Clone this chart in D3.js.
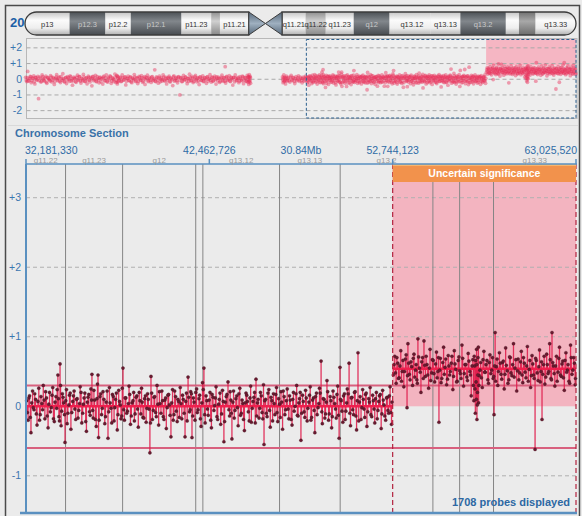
<!DOCTYPE html>
<html><head><meta charset="utf-8">
<script src="https://cdn.jsdelivr.net/npm/d3@7"></script>
<style>
body{margin:0;background:#ebebeb;}
svg{display:block;font-family:"Liberation Sans",Arial,sans-serif;}
</style>
</head><body>
<svg id="c" width="582" height="516"></svg>
<script>
// ---------------- DATA ----------------
const chromosomeName = "20";
const chromLengthBp = 63025520;
const bandNames  = ["p13","p12.3","p12.2","p12.1","p11.23","p11.22","p11.21","p11.1","q11.1","q11.21","q11.22","q11.23","q12","q13.11","q13.12","q13.13","q13.2","q13.31","q13.32","q13.33"];
const bandStarts = [0,5.1,9.2,12.1,17.9,21.3,22.3,25.6,27.5,29.4,32.1,34.4,37.6,41.7,42.1,46.4,49.8,55.0,56.5,58.4];
const bandEnds   = [5.1,9.2,12.1,17.9,21.3,22.3,25.6,27.5,29.4,32.1,34.4,37.6,41.7,42.1,46.4,49.8,55.0,56.5,58.4,63.03];
const bandStains = ["gneg","gpos75","gneg","gpos75","gneg","gpos25","gneg","acen","acen","gneg","gpos25","gneg","gpos75","gneg","gneg","gneg","gpos75","gneg","gpos50","gneg"];

const sectionStartBp = 32181330;
const sectionEndBp = 63025520;
const sectionTickBp = [32181330, 42462726, 52744123, 63025520];
const upperTicks = [2, 1, 0, -1, -2];
const lowerTicks = [3, 2, 1, 0, -1];
const thresholds = [0.3, -0.6];
const segStarts = [32.18133, 52.744123];
const segEnds   = [52.744123, 63.02552];
const segMeans  = [0, 0.54];
const callStart = 52.744123, callEnd = 63.02552;
const callLabel = "Uncertain significance";
const upperHighlightFloor = 0.88;
const probesDisplayed = 1708;

// probes [Mb, log2 ratio]
const pArmProbes = [[0.08,0.12],[0.2,-0.15],[0.31,0.5],[0.45,-0.08],[0.6,0.18],[0.72,-0.22],[0.86,0.05],[1.0,0.21],[1.13,-0.3],[1.27,0.1],[1.4,-0.05],[1.55,-1.24],[1.68,0.14],[1.82,-0.18],[1.96,0.27],[2.1,0.02],[2.23,-0.12],[2.38,0.19],[2.5,-0.26],[2.65,0.08],[2.8,-0.04],[2.93,0.23],[3.07,-0.17],[3.2,0.11],[3.35,-0.33],[3.5,0.06],[3.62,0.29],[3.77,-0.09],[3.9,0.15],[4.05,-0.21],[4.18,0.03],[4.33,0.35],[4.47,-0.14],[4.6,0.09],[4.75,-0.27],[4.88,0.17],[5.02,-0.02],[5.16,0.22],[5.3,-0.11],[5.43,-0.38],[5.58,0.13],[5.7,0.04],[5.85,-0.19],[6.0,0.26],[6.12,-0.07],[6.27,0.16],[6.4,-0.24],[6.55,0.01],[6.68,0.31],[6.82,-0.13],[6.96,0.07],[7.1,-0.29],[7.24,0.2],[7.37,-0.06],[7.5,0.12],[7.65,-0.42],[7.78,0.18],[7.92,-0.01],[8.06,0.25],[8.2,-0.16],[8.33,0.06],[8.48,-0.23],[8.6,0.14],[8.75,0.02],[8.9,-0.31],[9.03,0.19],[9.17,-0.08],[9.3,0.28],[9.45,-0.18],[9.58,0.04],[9.72,0.21],[9.86,-0.26],[10.0,0.1],[10.13,-0.03],[10.28,0.33],[10.4,-0.2],[10.5,0.24],[10.56,-0.3],[10.62,0.16],[10.7,-0.12],[10.84,0.08],[10.98,-0.15],[11.12,0.27],[11.25,-0.05],[11.4,0.13],[11.53,-0.36],[11.67,0.05],[11.8,0.2],[11.95,-0.1],[12.08,0.15],[12.22,-0.22],[12.36,0.03],[12.5,0.3],[12.63,-0.14],[12.77,0.1],[12.9,-0.27],[13.05,0.18],[13.18,-0.04],[13.32,0.23],[13.46,-0.19],[13.6,0.07],[13.73,-0.33],[13.87,0.12],[14.0,0.26],[14.15,-0.09],[14.28,0.04],[14.42,-0.2],[14.56,0.17],[14.7,-0.02],[14.84,0.6],[14.97,-0.15],[15.1,0.09],[15.25,-0.25],[15.38,0.2],[15.52,0.01],[15.66,-0.12],[15.8,0.28],[15.93,-0.07],[16.07,0.14],[16.2,-0.3],[16.35,0.06],[16.48,0.19],[16.62,-0.17],[16.76,0.03],[16.9,-0.4],[17.03,0.22],[17.17,-0.06],[17.3,0.11],[17.45,-0.23],[17.58,0.16],[17.72,-1.0],[17.86,0.08],[18.0,-0.14],[18.13,0.25],[18.27,-0.03],[18.4,0.13],[18.55,-0.28],[18.68,0.05],[18.82,0.32],[18.96,-0.1],[19.1,0.18],[19.23,-0.21],[19.37,0.02],[19.5,0.24],[19.65,-0.16],[19.78,0.09],[19.92,-0.34],[20.06,0.15],[20.2,-0.05],[20.33,0.21],[20.47,-0.12],[20.6,0.07],[20.75,-0.26],[20.88,0.17],[21.02,0.0],[21.16,0.29],[21.3,-0.18],[21.43,0.11],[21.57,-0.08],[21.7,0.2],[21.85,-0.31],[21.98,0.06],[22.12,0.14],[22.26,-0.2],[22.4,0.04],[22.53,0.26],[22.67,-0.13],[22.8,0.1],[22.9,0.8],[22.95,-0.24],[23.08,0.18],[23.22,-0.02],[23.36,0.23],[23.5,-0.15],[23.63,0.08],[23.77,-0.37],[23.9,0.12],[24.05,0.27],[24.18,-0.09],[24.32,0.05],[24.46,-0.22],[24.6,0.16],[24.73,-0.04],[24.87,0.2],[25.0,-0.28],[25.14,0.1],[25.28,-0.11],[25.42,0.25],[25.5,-0.19],[25.56,0.13],[25.6,-0.33],[25.65,0.3],[25.7,-0.06],[25.75,0.18],[25.8,-0.25]];

const pArmProbesB = [[0.14,-0.05],[0.27,0.1],[0.38,-0.12],[0.52,0.04],[0.66,0.15],[0.79,-0.1],[0.93,0.07],[1.06,-0.16],[1.2,0.12],[1.33,-0.02],[1.47,0.18],[1.61,-0.09],[1.75,0.05],[1.89,-0.13],[2.03,0.16],[2.16,-0.06],[2.3,0.09],[2.44,-0.18],[2.58,0.11],[2.72,0.0],[2.86,-0.11],[3.0,0.14],[3.14,-0.07],[3.28,0.06],[3.42,-0.15],[3.56,0.13],[3.7,-0.03],[3.84,0.08],[3.98,-0.12],[4.11,0.17],[4.25,-0.06],[4.4,0.04],[4.54,-0.17],[4.68,0.12],[4.82,-0.04],[4.95,0.09],[5.09,-0.13],[5.23,0.15],[5.37,0.02],[5.5,-0.1],[5.64,0.07],[5.78,-0.15],[5.92,0.12],[6.06,-0.02],[6.2,0.16],[6.34,-0.11],[6.48,0.05],[6.62,-0.08],[6.75,0.14],[6.89,-0.14],[7.03,0.09],[7.17,-0.04],[7.3,0.12],[7.44,-0.17],[7.58,0.03],[7.72,0.15],[7.85,-0.09],[7.99,0.06],[8.13,-0.12],[8.27,0.17],[8.4,-0.03],[8.54,0.1],[8.68,-0.16],[8.82,0.05],[8.96,0.13],[9.1,-0.1],[9.24,0.08],[9.38,-0.14],[9.52,0.11],[9.65,-0.05],[9.79,0.16],[9.93,-0.11],[10.06,0.04],[10.2,-0.15],[10.34,0.12],[10.45,-0.08],[10.53,0.2],[10.59,-0.18],[10.66,0.06],[10.77,-0.04],[10.91,0.13],[11.05,-0.12],[11.18,0.09],[11.32,-0.02],[11.46,0.15],[11.6,-0.13],[11.74,0.06],[11.88,-0.07],[12.02,0.11],[12.15,-0.16],[12.29,0.08],[12.43,-0.03],[12.57,0.14],[12.7,-0.1],[12.84,0.05],[12.98,-0.14],[13.12,0.12],[13.25,-0.05],[13.39,0.09],[13.53,-0.12],[13.67,0.16],[13.8,-0.02],[13.94,0.07],[14.08,-0.15],[14.22,0.11],[14.35,-0.06],[14.49,0.13],[14.63,-0.09],[14.77,0.04],[14.91,-0.13],[15.04,0.15],[15.18,-0.04],[15.32,0.08],[15.45,-0.16],[15.59,0.1],[15.73,-0.03],[15.87,0.14],[16.0,-0.11],[16.14,0.05],[16.28,-0.07],[16.42,0.12],[16.55,-0.14],[16.69,0.08],[16.83,-0.02],[16.97,0.15],[17.1,-0.12],[17.24,0.06],[17.38,-0.09],[17.52,0.13],[17.65,-0.05],[17.79,0.1],[17.93,-0.15],[18.07,0.07],[18.2,-0.02],[18.34,0.14],[18.48,-0.1],[18.62,0.04],[18.75,-0.13],[18.89,0.12],[19.03,-0.06],[19.16,0.09],[19.3,-0.14],[19.44,0.15],[19.58,-0.03],[19.72,0.07],[19.85,-0.11],[19.99,0.13],[20.13,-0.08],[20.27,0.05],[20.4,-0.15],[20.54,0.1],[20.68,-0.02],[20.82,0.14],[20.95,-0.12],[21.09,0.06],[21.23,-0.06],[21.37,0.13],[21.5,-0.13],[21.64,0.08],[21.78,-0.03],[21.92,0.15],[22.05,-0.1],[22.19,0.05],[22.33,-0.14],[22.47,0.11],[22.6,-0.05],[22.74,0.09],[22.88,-0.12],[23.02,0.14],[23.15,-0.07],[23.29,0.06],[23.43,-0.11],[23.57,0.13],[23.7,-0.02],[23.84,0.1],[23.98,-0.16],[24.12,0.07],[24.25,-0.04],[24.39,0.12],[24.53,-0.12],[24.67,0.05],[24.8,-0.09],[24.94,0.15],[25.07,-0.06],[25.21,0.09],[25.35,-0.14],[25.46,0.11],[25.53,-0.03],[25.58,0.17],[25.62,-0.12],[25.67,0.08],[25.72,-0.16],[25.78,0.1]];

const qProximalProbes = [[29.45,0.15],[29.52,-0.22],[29.6,0.28],[29.66,-0.1],[29.73,0.05],[29.8,-0.3],[29.9,0.2],[30.02,-0.05],[30.15,0.12],[30.3,-0.18],[30.44,0.24],[30.58,-0.08],[30.72,0.09],[30.86,-0.27],[31.0,0.17],[31.14,-0.02],[31.28,0.21],[31.42,-0.14],[31.56,0.06],[31.7,-0.23],[31.84,0.13],[31.98,-0.04],[32.1,0.19],[29.48,-0.04],[29.56,0.08],[29.63,-0.15],[29.7,0.12],[29.77,-0.06],[29.85,0.1],[29.96,-0.12],[30.08,0.06],[30.22,-0.09],[30.37,0.14],[30.51,-0.03],[30.65,0.11],[30.79,-0.13],[30.93,0.04],[31.07,-0.1],[31.21,0.08],[31.35,-0.05],[31.49,0.13],[31.63,-0.08],[31.77,0.05],[31.91,-0.12],[32.04,0.07]];

const sectionNormalProbes = [[32.22,0.08],[32.3,-0.2],[32.38,0.15],[32.46,-0.38],[32.55,0.22],[32.63,-0.05],[32.72,0.1],[32.8,-0.27],[32.9,0.26],[32.98,-0.12],[33.07,0.04],[33.15,0.3],[33.24,-0.18],[33.33,0.12],[33.42,-0.31],[33.5,0.2],[33.6,-0.02],[33.68,0.27],[33.77,-0.22],[33.86,0.14],[33.97,0.45],[34.03,-0.15],[34.09,0.61],[34.15,-0.28],[34.22,0.18],[34.3,0.05],[34.37,-0.52],[34.45,0.24],[34.53,-0.1],[34.62,0.16],[34.7,-0.33],[34.8,0.07],[34.88,0.22],[34.97,-0.19],[35.05,0.11],[35.14,-0.06],[35.22,0.28],[35.31,-0.24],[35.4,0.03],[35.48,0.19],[35.57,-0.36],[35.66,0.13],[35.74,-0.08],[35.82,0.25],[35.88,0.46],[35.95,-0.17],[36.03,0.09],[36.12,-0.29],[36.19,0.32],[36.22,0.45],[36.25,-0.45],[36.33,0.14],[36.42,-0.12],[36.5,0.21],[36.6,-0.25],[36.68,0.06],[36.78,-0.46],[36.86,0.27],[36.95,-0.03],[37.03,0.17],[37.12,-0.21],[37.2,0.1],[37.3,-0.34],[37.38,0.23],[37.47,0.02],[37.55,-0.14],[37.62,0.55],[37.7,-0.2],[37.78,0.12],[37.87,-0.07],[37.96,0.29],[38.04,-0.26],[38.13,0.05],[38.22,0.2],[38.3,-0.11],[38.4,0.15],[38.48,-0.3],[38.57,0.08],[38.66,0.26],[38.74,-0.16],[38.83,0.11],[38.92,-0.23],[39.0,0.18],[39.08,-0.04],[39.13,-0.67],[39.19,0.43],[39.27,-0.19],[39.36,0.13],[39.45,-0.09],[39.53,0.3],[39.62,-0.27],[39.7,0.04],[39.8,0.22],[39.88,-0.15],[39.97,0.09],[40.05,-0.32],[40.14,0.16],[40.22,0.02],[40.31,-0.44],[40.4,0.24],[40.48,-0.12],[40.57,0.14],[40.66,-0.22],[40.74,0.07],[40.83,0.27],[40.92,-0.18],[41.0,0.1],[41.1,-0.44],[41.18,0.19],[41.27,0.42],[41.35,-0.08],[41.42,0.21],[41.49,-0.45],[41.57,0.12],[41.66,-0.2],[41.75,0.25],[41.83,-0.05],[41.92,0.16],[42.0,-0.29],[42.08,0.34],[42.16,0.55],[42.23,-0.24],[42.32,0.08],[42.4,-0.13],[42.5,0.2],[42.58,-0.31],[42.67,0.13],[42.76,0.01],[42.84,0.28],[42.93,-0.19],[43.02,0.1],[43.1,-0.26],[43.2,0.23],[43.28,-0.51],[43.36,0.06],[43.45,0.17],[43.51,0.35],[43.6,-0.14],[43.67,0.09],[43.73,-0.47],[43.82,0.22],[43.9,-0.06],[44.0,0.15],[44.08,-0.28],[44.17,0.26],[44.26,-0.1],[44.34,0.04],[44.43,-0.35],[44.52,0.19],[44.6,0.07],[44.7,-0.21],[44.78,0.29],[44.87,-0.03],[44.96,0.13],[45.04,-0.24],[45.08,0.39],[45.16,0.05],[45.25,-0.17],[45.33,0.2],[45.42,-0.09],[45.5,0.31],[45.53,-0.55],[45.62,0.1],[45.7,-0.15],[45.8,0.24],[45.88,-0.3],[45.97,0.08],[46.06,0.18],[46.14,-0.12],[46.23,0.27],[46.3,-0.22],[46.4,0.03],[46.48,0.21],[46.57,-0.33],[46.66,0.14],[46.74,-0.05],[46.83,0.25],[46.92,-0.18],[47.0,0.09],[47.1,-0.27],[47.18,0.2],[47.27,0.0],[47.36,0.3],[47.44,-0.14],[47.52,0.11],[47.6,-0.49],[47.69,0.16],[47.78,-0.08],[47.86,0.23],[47.95,-0.21],[48.04,0.06],[48.12,0.28],[48.2,-0.16],[48.3,0.12],[48.38,-0.38],[48.47,0.19],[48.56,-0.02],[48.64,0.26],[48.73,0.65],[48.8,-0.25],[48.9,0.1],[48.98,-0.11],[49.06,0.37],[49.15,-0.2],[49.24,0.14],[49.32,-0.31],[49.4,0.22],[49.5,0.04],[49.58,-0.17],[49.66,0.29],[49.74,-0.46],[49.79,0.56],[49.86,0.08],[49.95,-0.23],[50.04,0.18],[50.12,-0.07],[50.2,0.25],[50.3,0.62],[50.38,-0.28],[50.46,0.13],[50.55,-0.12],[50.64,0.21],[50.72,-0.34],[50.8,0.77],[50.88,0.06],[50.97,-0.19],[51.06,0.24],[51.14,-0.04],[51.22,0.17],[51.3,-0.29],[51.4,0.11],[51.48,0.27],[51.57,-0.15],[51.66,0.08],[51.74,-0.24],[51.83,0.2],[51.92,-0.06],[52.0,0.15],[52.1,-0.32],[52.18,0.23],[52.26,0.02],[52.35,-0.2],[52.44,0.13],[52.52,-0.1],[52.6,0.28],[52.68,-0.26]];

const sectionNormalProbesB = [[32.26,-0.09],[32.34,0.12],[32.42,-0.16],[32.5,0.05],[32.59,-0.02],[32.67,0.18],[32.76,-0.11],[32.85,0.07],[32.94,-0.2],[33.02,0.14],[33.11,-0.05],[33.2,0.09],[33.28,0.21],[33.37,-0.14],[33.46,0.03],[33.55,-0.08],[33.64,0.16],[33.72,-0.18],[33.81,0.06],[33.9,-0.03],[33.93,0.24],[34.0,0.11],[34.06,-0.21],[34.12,0.3],[34.18,-0.07],[34.26,0.13],[34.34,-0.12],[34.41,0.08],[34.49,-0.25],[34.58,0.02],[34.66,0.19],[34.75,-0.09],[34.84,0.15],[34.92,-0.04],[35.01,0.1],[35.1,-0.17],[35.18,0.04],[35.27,0.2],[35.36,-0.1],[35.44,0.12],[35.53,-0.22],[35.62,0.06],[35.7,0.17],[35.78,-0.13],[35.86,0.09],[35.92,-0.06],[35.99,0.23],[36.07,-0.19],[36.16,0.11],[36.28,-0.2],[36.37,0.18],[36.46,-0.03],[36.55,0.1],[36.64,-0.15],[36.73,0.22],[36.82,-0.08],[36.9,0.05],[36.99,-0.24],[37.08,0.14],[37.16,-0.02],[37.25,0.19],[37.34,-0.12],[37.43,0.07],[37.51,-0.18],[37.58,0.26],[37.66,-0.05],[37.74,0.12],[37.83,-0.1],[37.92,0.04],[38.0,0.17],[38.09,-0.14],[38.18,0.08],[38.26,-0.21],[38.35,0.13],[38.44,-0.04],[38.53,0.2],[38.62,-0.11],[38.7,0.06],[38.79,-0.17],[38.88,0.15],[38.96,-0.03],[39.04,0.1],[39.16,-0.24],[39.23,0.19],[39.32,-0.06],[39.4,0.14],[39.49,-0.15],[39.58,0.03],[39.66,0.21],[39.75,-0.1],[39.84,0.08],[39.92,-0.19],[40.01,0.12],[40.1,-0.02],[40.18,0.17],[40.26,-0.13],[40.35,0.05],[40.44,-0.2],[40.52,0.22],[40.61,-0.07],[40.7,0.1],[40.78,-0.16],[40.87,0.04],[40.96,0.16],[41.05,-0.1],[41.14,0.07],[41.22,-0.21],[41.31,0.13],[41.39,-0.05],[41.46,0.18],[41.53,-0.14],[41.61,0.06],[41.7,0.2],[41.79,-0.09],[41.88,0.11],[41.96,-0.18],[42.04,0.05],[42.12,0.24],[42.2,-0.12],[42.28,0.15],[42.36,-0.04],[42.45,0.09],[42.54,-0.2],[42.62,0.17],[42.72,-0.06],[42.8,0.12],[42.89,-0.15],[42.98,0.03],[43.06,0.19],[43.15,-0.11],[43.24,0.07],[43.32,-0.22],[43.41,0.14],[43.56,-0.05],[43.63,0.21],[43.7,-0.1],[43.78,0.06],[43.86,-0.17],[43.95,0.11],[44.04,-0.02],[44.12,0.18],[44.21,-0.13],[44.3,0.09],[44.38,-0.19],[44.47,0.05],[44.56,0.16],[44.65,-0.08],[44.74,0.12],[44.82,-0.23],[44.91,0.07],[45.0,0.2],[45.12,-0.14],[45.2,0.1],[45.29,-0.03],[45.38,0.15],[45.46,-0.18],[45.57,0.08],[45.66,-0.1],[45.75,0.19],[45.84,-0.06],[45.92,0.13],[46.01,-0.21],[46.1,0.04],[46.19,0.17],[46.26,-0.09],[46.35,0.11],[46.44,-0.16],[46.52,0.06],[46.61,0.22],[46.7,-0.12],[46.78,0.08],[46.88,-0.04],[46.96,0.15],[47.05,-0.19],[47.14,0.1],[47.22,-0.07],[47.32,0.18],[47.4,-0.13],[47.48,0.05],[47.56,0.2],[47.64,-0.1],[47.73,0.07],[47.82,-0.16],[47.9,0.12],[47.99,-0.03],[48.08,0.16],[48.16,-0.2],[48.25,0.09],[48.34,-0.06],[48.42,0.14],[48.51,-0.12],[48.6,0.04],[48.68,0.19],[48.77,-0.08],[48.85,0.11],[48.94,-0.17],[49.02,0.06],[49.1,0.21],[49.19,-0.11],[49.28,0.08],[49.36,-0.15],[49.45,0.13],[49.54,-0.04],[49.62,0.17],[49.7,-0.13],[49.82,0.1],[49.9,-0.07],[49.99,0.15],[50.08,-0.19],[50.16,0.05],[50.25,0.18],[50.34,-0.1],[50.42,0.12],[50.5,-0.05],[50.6,0.2],[50.68,-0.14],[50.76,0.08],[50.84,-0.21],[50.92,0.14],[51.02,-0.02],[51.1,0.1],[51.18,-0.16],[51.26,0.19],[51.35,-0.08],[51.44,0.06],[51.52,-0.12],[51.62,0.16],[51.7,-0.04],[51.78,0.11],[51.88,-0.18],[51.96,0.07],[52.05,0.17],[52.14,-0.11],[52.22,0.09],[52.3,-0.14],[52.4,0.12],[52.48,-0.06],[52.56,0.15],[52.64,-0.09],[52.71,0.06]];

const sectionGainProbes = [[52.78,0.45],[52.86,0.72],[52.94,0.33],[53.03,0.62],[53.11,0.41],[53.2,0.8],[53.28,0.5],[53.37,0.28],[53.46,0.68],[53.55,-0.02],[53.6,0.9],[53.68,0.46],[53.77,0.64],[53.86,0.3],[53.94,0.75],[54.03,0.52],[54.1,0.38],[54.16,0.97],[54.25,0.55],[54.33,0.2],[54.42,0.7],[54.5,0.94],[54.58,0.43],[54.67,0.6],[54.76,0.26],[54.84,0.82],[54.93,0.48],[55.02,0.66],[55.1,0.35],[55.2,0.78],[55.28,0.5],[55.34,-0.23],[55.42,0.69],[55.5,0.4],[55.6,0.85],[55.68,0.56],[55.77,0.31],[55.86,0.73],[55.94,0.45],[56.03,0.62],[56.12,0.24],[56.2,0.8],[56.28,0.53],[56.37,0.36],[56.46,0.71],[56.54,0.47],[56.63,0.88],[56.72,0.29],[56.8,0.6],[56.9,0.42],[56.98,0.76],[57.07,0.5],[57.15,0.15],[57.24,0.67],[57.3,0.08],[57.34,0.58],[57.38,-0.1],[57.42,0.35],[57.45,0.82],[57.47,-0.19],[57.5,0.2],[57.53,0.7],[57.56,0.05],[57.6,0.44],[57.68,0.63],[57.77,0.27],[57.86,0.79],[57.94,0.49],[58.03,0.66],[58.12,0.33],[58.2,0.74],[58.3,0.52],[58.38,0.4],[58.43,-0.12],[58.49,1.06],[58.56,0.57],[58.64,0.3],[58.73,0.77],[58.82,0.46],[58.9,0.63],[59.0,0.25],[59.08,0.84],[59.17,0.51],[59.26,0.38],[59.34,0.7],[59.43,0.44],[59.52,0.9],[59.6,0.55],[59.7,0.22],[59.78,0.68],[59.87,0.48],[59.96,0.79],[60.04,0.34],[60.13,0.62],[60.22,0.41],[60.3,0.86],[60.4,0.53],[60.48,0.27],[60.56,0.73],[60.64,0.45],[60.73,-0.62],[60.8,0.66],[60.9,0.37],[60.98,0.81],[61.06,0.5],[61.12,-0.19],[61.2,0.6],[61.28,0.32],[61.38,0.75],[61.46,0.47],[61.55,0.9],[61.62,0.4],[61.68,1.06],[61.76,0.58],[61.84,0.29],[61.93,0.72],[62.02,0.49],[62.1,0.85],[62.2,0.43],[62.28,0.65],[62.37,0.23],[62.46,0.77],[62.54,0.52],[62.63,0.36],[62.72,0.88],[62.8,0.46],[62.9,0.7],[62.98,0.31]];

const sectionGainProbesB = [[52.82,0.6],[52.9,0.48],[52.98,0.7],[53.07,0.4],[53.15,0.58],[53.24,0.36],[53.32,0.66],[53.41,0.5],[53.5,0.74],[53.58,0.44],[53.64,0.62],[53.72,0.38],[53.81,0.57],[53.9,0.69],[53.98,0.42],[54.06,0.6],[54.13,0.33],[54.2,0.71],[54.29,0.49],[54.37,0.64],[54.46,0.4],[54.54,0.59],[54.62,0.72],[54.71,0.45],[54.8,0.55],[54.88,0.37],[54.97,0.67],[55.06,0.47],[55.15,0.61],[55.24,0.41],[55.31,0.7],[55.38,0.52],[55.46,0.34],[55.55,0.63],[55.64,0.46],[55.72,0.68],[55.82,0.39],[55.9,0.58],[55.98,0.5],[56.07,0.72],[56.16,0.43],[56.24,0.61],[56.33,0.35],[56.42,0.66],[56.5,0.51],[56.58,0.4],[56.67,0.69],[56.76,0.47],[56.85,0.6],[56.94,0.37],[57.02,0.65],[57.11,0.45],[57.2,0.58],[57.27,0.3],[57.32,0.72],[57.36,0.25],[57.4,0.66],[57.44,0.1],[57.46,0.6],[57.49,0.02],[57.52,0.45],[57.55,0.85],[57.58,0.3],[57.64,0.52],[57.72,0.41],[57.81,0.67],[57.9,0.49],[57.98,0.6],[58.08,0.38],[58.16,0.63],[58.25,0.47],[58.34,0.7],[58.41,0.43],[58.46,0.58],[58.52,0.36],[58.6,0.68],[58.68,0.5],[58.78,0.62],[58.86,0.39],[58.95,0.65],[59.04,0.46],[59.12,0.59],[59.21,0.33],[59.3,0.71],[59.38,0.48],[59.47,0.6],[59.56,0.42],[59.65,0.67],[59.74,0.51],[59.82,0.38],[59.91,0.64],[60.0,0.45],[60.08,0.7],[60.17,0.49],[60.26,0.58],[60.35,0.36],[60.44,0.66],[60.52,0.44],[60.6,0.61],[60.68,0.4],[60.76,0.69],[60.85,0.48],[60.94,0.57],[61.02,0.35],[61.09,0.64],[61.16,0.46],[61.24,0.72],[61.33,0.42],[61.42,0.6],[61.5,0.5],[61.58,0.67],[61.65,0.38],[61.72,0.63],[61.8,0.47],[61.88,0.58],[61.97,0.36],[62.06,0.69],[62.15,0.45],[62.24,0.61],[62.32,0.41],[62.41,0.66],[62.5,0.49],[62.58,0.6],[62.67,0.33],[62.76,0.7],[62.85,0.52],[62.94,0.62],[63.0,0.4]];

// ---------------- DRAW ----------------
const svg = d3.select("#c");
const defs = svg.append("defs");
const blue = "#2f6ba6";

function grad(id, stops){
  const g = defs.append("linearGradient").attr("id", id).attr("x1",0).attr("y1",0).attr("x2",0).attr("y2",1);
  stops.forEach(([o,c]) => g.append("stop").attr("offset", o).attr("stop-color", c));
}
grad("gneg",  [[0,"#c4c4c4"],[0.35,"#fbfbfb"],[0.7,"#eeeeee"],[1,"#b0b0b0"]]);
grad("gpos25",[[0,"#8f8f8f"],[0.4,"#d0d0d0"],[1,"#878787"]]);
grad("gpos50",[[0,"#727272"],[0.4,"#a8a8a8"],[1,"#6c6c6c"]]);
grad("gpos75",[[0,"#4c5156"],[0.4,"#82878c"],[1,"#474b50"]]);
grad("acen",  [[0,"#56687a"],[0.5,"#9fb0c0"],[1,"#56687a"]]);

// frame
svg.append("rect").attr("x",5.5).attr("y",5.5).attr("width",574).attr("height",520)
  .attr("fill","#ebebeb").attr("stroke","#4a4a4a").attr("stroke-width",1.5);

// ---- ideogram ----
const bands = bandNames.map((n,i)=>({name:n,start:bandStarts[i],end:bandEnds[i],stain:bandStains[i]}));
const chromMb = chromLengthBp/1e6;
const ix = d3.scaleLinear().domain([0, chromMb]).range([25, 576]);
const iTop = 12, iBot = 35, iMid = (iTop+iBot)/2, rr = 11.5;
const cen = bands.filter(b=>b.stain==="acen");
const cenStart = d3.min(cen,b=>b.start), cenEnd = d3.max(cen,b=>b.end), cenMid = cen[0].end;

svg.append("text").attr("x",10).attr("y",27).attr("fill","#1d5fa6")
  .attr("font-weight","bold").attr("font-size",13).text(chromosomeName);

const pPath = `M${ix(0)+rr},${iTop} L${ix(cenStart)},${iTop} L${ix(cenStart)},${iBot} L${ix(0)+rr},${iBot} A${rr},${rr} 0 0 1 ${ix(0)+rr},${iTop} Z`;
const qPath = `M${ix(cenEnd)},${iTop} L${ix(chromMb)-rr},${iTop} A${rr},${rr} 0 0 1 ${ix(chromMb)-rr},${iBot} L${ix(cenEnd)},${iBot} Z`;
defs.append("clipPath").attr("id","clipP").append("path").attr("d",pPath);
defs.append("clipPath").attr("id","clipQ").append("path").attr("d",qPath);
["P","Q"].forEach(arm=>{
  const bs = bands.filter(b=>b.stain!=="acen" && (arm==="P" ? b.end<=cenStart : b.start>=cenEnd));
  const g = svg.append("g").attr("clip-path",`url(#clip${arm})`);
  g.selectAll("rect").data(bs).join("rect")
    .attr("x",d=>ix(d.start)).attr("y",iTop).attr("width",d=>ix(d.end)-ix(d.start)).attr("height",iBot-iTop)
    .attr("fill",d=>`url(#${d.stain})`);
});
svg.append("path").attr("d",pPath).attr("fill","none").attr("stroke","#3c3c3c").attr("stroke-width",1.3);
svg.append("path").attr("d",qPath).attr("fill","none").attr("stroke","#3c3c3c").attr("stroke-width",1.3);
svg.append("path").attr("d",`M${ix(cenStart)},${iTop} L${ix(cenMid)},${iMid} L${ix(cenStart)},${iBot} Z`)
  .attr("fill","url(#acen)").attr("stroke","#3c3c3c").attr("stroke-width",1);
svg.append("path").attr("d",`M${ix(cenEnd)},${iTop} L${ix(cenMid)},${iMid} L${ix(cenEnd)},${iBot} Z`)
  .attr("fill","url(#acen)").attr("stroke","#3c3c3c").attr("stroke-width",1);
svg.append("g").selectAll("text").data(bands.filter(b=>b.stain!=="acen" && ix(b.end)-ix(b.start)>=19)).join("text")
  .attr("x",d=>(ix(d.start)+ix(d.end))/2).attr("y",iMid+3).attr("text-anchor","middle")
  .attr("font-size",7.5).attr("fill",d=>d.stain==="gpos75"?"#c9c9c9":"#333").text(d=>d.name);

// ---- upper whole-chromosome plot ----
const uy = d3.scaleLinear().domain([-2.5,2.5]).range([118.5,40]);
const uLeft = 26.5, uRight = 577;
svg.append("rect").attr("x",uLeft).attr("y",38.5).attr("width",uRight-uLeft).attr("height",80)
  .attr("fill","#eeeeee").attr("stroke","#b8b8b8");
svg.append("rect").attr("x",ix(callStart)).attr("y",39).attr("width",ix(callEnd)-ix(callStart))
  .attr("height",uy(upperHighlightFloor)-39).attr("fill","#f5b6c3");
svg.append("g").selectAll("line").data(upperTicks).join("line")
  .attr("x1",uLeft).attr("x2",uRight).attr("y1",d=>uy(d)).attr("y2",d=>uy(d))
  .attr("stroke","#a9a9a9").attr("stroke-dasharray","4,3");
svg.append("g").selectAll("text").data(upperTicks).join("text")
  .attr("x",22).attr("y",d=>uy(d)+3.5).attr("text-anchor","end").attr("font-size",10.5)
  .attr("fill","#3a76b0").text(d=>d>0?"+"+d:d);
const allProbes = pArmProbes.concat(pArmProbesB, qProximalProbes, sectionNormalProbes, sectionNormalProbesB, sectionGainProbes, sectionGainProbesB);
svg.append("g").selectAll("circle").data(allProbes).join("circle")
  .attr("cx",d=>ix(d[0])).attr("cy",d=>uy(d[1])).attr("r",1.9)
  .attr("fill","#e8315c").attr("fill-opacity",0.45);
svg.append("rect").attr("x",ix(sectionStartBp/1e6)).attr("y",39.5)
  .attr("width",ix(sectionEndBp/1e6)-ix(sectionStartBp/1e6)).attr("height",78.5)
  .attr("fill","none").attr("stroke","#2b5f8e").attr("stroke-dasharray","3,2");

// separator + section title
svg.append("line").attr("x1",8).attr("x2",578).attr("y1",125.5).attr("y2",125.5).attr("stroke","#d9d9d9");
svg.append("text").attr("x",15).attr("y",137).attr("font-weight","bold").attr("font-size",11)
  .attr("fill","#3a72a8").text("Chromosome Section");

// ---- lower section plot ----
const xl = d3.scaleLinear().domain([sectionStartBp/1e6, sectionEndBp/1e6]).range([26,576]);
const yl = d3.scaleLinear().domain([-1.535,3.485]).range([513,164]);
const pTop = 164, pBot = 513;

svg.append("rect").attr("x",xl(callStart)).attr("y",pTop).attr("width",xl(callEnd)-xl(callStart))
  .attr("height",yl(0)-pTop).attr("fill","#f3b4c0");
svg.append("g").selectAll("line").data(lowerTicks.filter(d=>d!==0)).join("line")
  .attr("x1",26).attr("x2",577).attr("y1",d=>yl(d)).attr("y2",d=>yl(d))
  .attr("stroke","#b0b0b0").attr("stroke-dasharray","4,3");
const inner = bands.filter(b=>b.start>sectionStartBp/1e6 && b.start<sectionEndBp/1e6);
svg.append("g").selectAll("line").data(inner).join("line")
  .attr("x1",d=>xl(d.start)).attr("x2",d=>xl(d.start)).attr("y1",pTop).attr("y2",pBot)
  .attr("stroke","#858585").attr("stroke-width",1);
svg.append("g").selectAll("line").data(thresholds).join("line")
  .attr("x1",26).attr("x2",576).attr("y1",d=>yl(d)).attr("y2",d=>yl(d))
  .attr("stroke","#d8607e").attr("stroke-width",2);

const segs = segStarts.map((s,i)=>({start:s,end:segEnds[i],mean:segMeans[i]}));
const meanOf = p => segs.find(s=>p[0]>=s.start && p[0]<=s.end).mean;
const section = sectionNormalProbes.concat(sectionNormalProbesB, sectionGainProbes, sectionGainProbesB);
svg.append("g").selectAll("line").data(section).join("line")
  .attr("x1",d=>xl(d[0])).attr("x2",d=>xl(d[0])).attr("y1",d=>yl(meanOf(d))).attr("y2",d=>yl(d[1]))
  .attr("stroke","#e0204f").attr("stroke-width",1.3).attr("stroke-opacity",0.9);
svg.append("g").selectAll("line").data(segs).join("line")
  .attr("x1",d=>xl(d.start)).attr("x2",d=>xl(d.end)).attr("y1",d=>yl(d.mean)).attr("y2",d=>yl(d.mean))
  .attr("stroke","#f0204e").attr("stroke-width",2.5);
svg.append("g").selectAll("circle").data(section).join("circle")
  .attr("cx",d=>xl(d[0])).attr("cy",d=>yl(d[1])).attr("r",1.6)
  .attr("fill","#6a1a30").attr("stroke","#3a0c18").attr("stroke-width",0.3);

[callStart, callEnd].forEach(v=>{
  svg.append("line").attr("x1",xl(v)).attr("x2",xl(v)).attr("y1",pTop).attr("y2",pBot)
    .attr("stroke","#b3223e").attr("stroke-width",1.2).attr("stroke-dasharray","5,3");
});
svg.append("rect").attr("x",xl(callStart)).attr("y",pTop+0.5).attr("width",xl(callEnd)-xl(callStart))
  .attr("height",17.5).attr("fill","#f2924c");
svg.append("line").attr("x1",xl(callStart)).attr("x2",xl(callEnd)).attr("y1",pTop+1).attr("y2",pTop+1)
  .attr("stroke","#f9c27a").attr("stroke-width",1.5);
svg.append("text").attr("x",(xl(callStart)+xl(callEnd))/2).attr("y",pTop+13).attr("text-anchor","middle")
  .attr("font-weight","bold").attr("font-size",10.5).attr("fill","#ffffff").text(callLabel);

// axes
svg.append("line").attr("x1",26).attr("x2",26).attr("y1",pTop).attr("y2",pBot).attr("stroke","#5a90c0").attr("stroke-width",2);
svg.append("line").attr("x1",26).attr("x2",577).attr("y1",pTop).attr("y2",pTop).attr("stroke","#5a90c0").attr("stroke-width",1.5);
svg.append("line").attr("x1",20).attr("x2",577).attr("y1",pBot).attr("y2",pBot).attr("stroke","#5a90c0").attr("stroke-width",2.5);
svg.append("g").selectAll("text").data(lowerTicks).join("text")
  .attr("x",21).attr("y",d=>yl(d)+3.5).attr("text-anchor","end").attr("font-size",10.5)
  .attr("fill","#3a76b0").text(d=>d>0?"+"+d:d);

// band labels along top
svg.append("g").selectAll("text").data(bands.filter(b=>{
    const s=Math.max(b.start,sectionStartBp/1e6), e=Math.min(b.end,sectionEndBp/1e6);
    return e>s && xl(e)-xl(s)>=36;}))
  .join("text")
  .attr("x",d=>(xl(Math.max(d.start,sectionStartBp/1e6))+xl(Math.min(d.end,sectionEndBp/1e6)))/2)
  .attr("y",162.5).attr("text-anchor","middle").attr("font-size",8).attr("fill","#9a9a9a").text(d=>d.name);
const fmt = d3.format(",");
svg.append("g").selectAll("line").data(sectionTickBp).join("line")
  .attr("x1",d=>xl(d/1e6)).attr("x2",d=>xl(d/1e6)).attr("y1",pTop-5).attr("y2",pTop)
  .attr("stroke","#5a90c0").attr("stroke-width",1.5);
svg.append("g").selectAll("text").data(sectionTickBp).join("text")
  .attr("x",(d,i)=> i===0 ? 25 : i===sectionTickBp.length-1 ? 577 : xl(d/1e6))
  .attr("y",153.5).attr("font-size",10.5).attr("fill",blue)
  .attr("text-anchor",(d,i)=> i===0 ? "start" : i===sectionTickBp.length-1 ? "end" : "middle")
  .text(d=>fmt(d));
svg.append("text").attr("x",(xl(sectionStartBp/1e6)+xl(sectionEndBp/1e6))/2).attr("y",153.5)
  .attr("text-anchor","middle").attr("font-size",10.5).attr("fill",blue)
  .text(d3.format(".2f")((sectionEndBp-sectionStartBp)/1e6)+"Mb");

svg.append("text").attr("x",570).attr("y",506).attr("text-anchor","end").attr("font-weight","bold")
  .attr("font-size",11).attr("fill","#2d68a3").text(`${probesDisplayed} probes displayed`);
</script>
</body></html>
